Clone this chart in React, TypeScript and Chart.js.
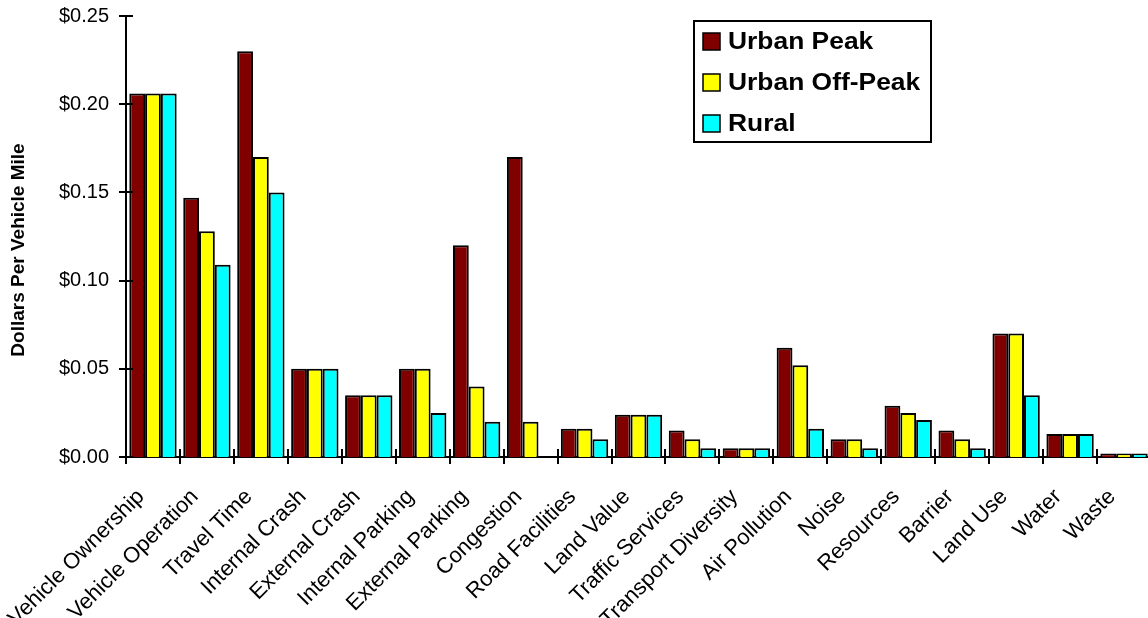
import React, { useEffect, useRef } from "react";
import { Chart, registerables } from "chart.js";

Chart.register(...registerables);

const categories = [
  "Vehicle Ownership",
  "Vehicle Operation",
  "Travel Time",
  "Internal Crash",
  "External Crash",
  "Internal Parking",
  "External Parking",
  "Congestion",
  "Road Facilities",
  "Land Value",
  "Traffic Services",
  "Transport Diversity",
  "Air Pollution",
  "Noise",
  "Resources",
  "Barrier",
  "Land Use",
  "Water",
  "Waste",
];

const urbanPeak = [0.206, 0.147, 0.23, 0.05, 0.035, 0.05, 0.12, 0.17, 0.016, 0.024, 0.015, 0.005, 0.062, 0.01, 0.029, 0.015, 0.07, 0.013, 0.002];
const urbanOffPeak = [0.206, 0.128, 0.17, 0.05, 0.035, 0.05, 0.04, 0.02, 0.016, 0.024, 0.01, 0.005, 0.052, 0.01, 0.025, 0.01, 0.07, 0.013, 0.002];
const rural = [0.206, 0.109, 0.15, 0.05, 0.035, 0.025, 0.02, 0, 0.01, 0.024, 0.005, 0.005, 0.016, 0.005, 0.021, 0.005, 0.035, 0.013, 0.002];

const seriesNames = ["Urban Peak", "Urban Off-Peak", "Rural"];
const seriesColors = ["#800000", "#FFFF00", "#00FFFF"];
const yAxisTitle = "Dollars Per Vehicle Mile";

const FONT = "'Liberation Sans', Arial, Helvetica, sans-serif";

const crossTicksPlugin = {
  id: "crossTicks",
  afterDraw(chart: any) {
    const ctx = chart.ctx;
    const xs = chart.scales.x;
    const ys = chart.scales.y;
    ctx.save();
    ctx.strokeStyle = "#000";
    ctx.lineWidth = 2;
    ctx.beginPath();
    ys.ticks.forEach((t: any) => {
      const y = Math.round(ys.getPixelForValue(t.value));
      ctx.moveTo(ys.right - 7, y);
      ctx.lineTo(ys.right + 7, y);
    });
    const n = categories.length;
    const w = (xs.right - xs.left) / n;
    for (let i = 0; i <= n; i++) {
      const x = Math.round(xs.left + i * w);
      ctx.moveTo(x, xs.top - 8);
      ctx.lineTo(x, xs.top + 7);
    }
    ctx.stroke();
    ctx.restore();
  },
};

const axisTitlePlugin = {
  id: "axisTitle",
  afterDraw(chart: any) {
    const ctx = chart.ctx;
    ctx.save();
    ctx.translate(18.5, 250);
    ctx.rotate(-Math.PI / 2);
    ctx.fillStyle = "#000";
    ctx.font = `bold 19px ${FONT}`;
    ctx.textAlign = "center";
    ctx.textBaseline = "middle";
    ctx.fillText(yAxisTitle, 0, 0);
    ctx.restore();
  },
};

const boxLegendPlugin = {
  id: "boxLegend",
  afterDraw(chart: any) {
    const ctx = chart.ctx;
    const bx = 694;
    const by = 21;
    const bw = 237;
    const bh = 121;
    ctx.save();
    ctx.fillStyle = "#fff";
    ctx.fillRect(bx, by, bw, bh);
    ctx.strokeStyle = "#000";
    ctx.lineWidth = 2;
    ctx.strokeRect(bx, by, bw, bh);
    chart.data.datasets.forEach((ds: any, i: number) => {
      const cy = 41 + i * 41;
      ctx.fillStyle = ds.backgroundColor;
      ctx.fillRect(703, cy - 8, 17, 17);
      ctx.lineWidth = 1.5;
      ctx.strokeStyle = "#000";
      ctx.strokeRect(703, cy - 8, 17, 17);
      ctx.save();
      ctx.translate(728, cy + 1);
      ctx.scale(1.1, 1);
      ctx.fillStyle = "#000";
      ctx.font = `bold 24px ${FONT}`;
      ctx.textBaseline = "middle";
      ctx.textAlign = "left";
      ctx.fillText(ds.label, 0, 0);
      ctx.restore();
    });
    ctx.restore();
  },
};

export default function App() {
  const canvasRef = useRef<HTMLCanvasElement | null>(null);

  useEffect(() => {
    document.body.style.margin = "0";
    document.documentElement.style.overflow = "hidden";
    const canvas = canvasRef.current;
    if (!canvas) return;
    Chart.defaults.font.family = FONT;
    Chart.defaults.color = "#000";

    const values = [urbanPeak, urbanOffPeak, rural];
    const chart = new Chart(canvas, {
      type: "bar",
      data: {
        labels: categories,
        datasets: seriesNames.map((name, i) => ({
          label: name,
          data: values[i],
          backgroundColor: seriesColors[i],
          borderColor: "#000",
          borderWidth: 2,
          categoryPercentage: 0.878,
          barPercentage: 1.0,
        })),
      },
      options: {
        responsive: false,
        animation: false,
        layout: { padding: { top: 16, right: 9, bottom: 0, left: 0 } },
        plugins: {
          legend: { display: false },
          tooltip: { enabled: false },
        },
        scales: {
          x: {
            grid: { display: false, drawTicks: false },
            border: { display: true, color: "#000", width: 2 },
            ticks: {
              autoSkip: false,
              maxRotation: 45,
              minRotation: 45,
              padding: 27,
              labelOffset: -12,
              color: "#000",
              font: { size: 22, family: FONT },
            },
            afterFit: (scale: any) => {
              scale.height = 161;
              scale.paddingLeft = 0;
              scale.paddingRight = 0;
            },
          },
          y: {
            min: 0,
            max: 0.25,
            grid: { display: false, drawTicks: false },
            border: { display: true, color: "#000", width: 2 },
            ticks: {
              stepSize: 0.05,
              padding: 17,
              color: "#000",
              font: { size: 20, family: FONT },
              callback: (v: any) => "$" + Number(v).toFixed(2),
            },
            afterFit: (scale: any) => {
              scale.width = 126;
              scale.paddingTop = 0;
              scale.paddingBottom = 0;
            },
          },
        },
      },
      plugins: [crossTicksPlugin, axisTitlePlugin, boxLegendPlugin],
    });
    return () => chart.destroy();
  }, []);

  return (
    <div style={{ width: 1148, height: 618, overflow: "hidden", position: "relative", background: "#fff" }}>
      <canvas ref={canvasRef} width={1160} height={618} style={{ display: "block" }} />
    </div>
  );
}
